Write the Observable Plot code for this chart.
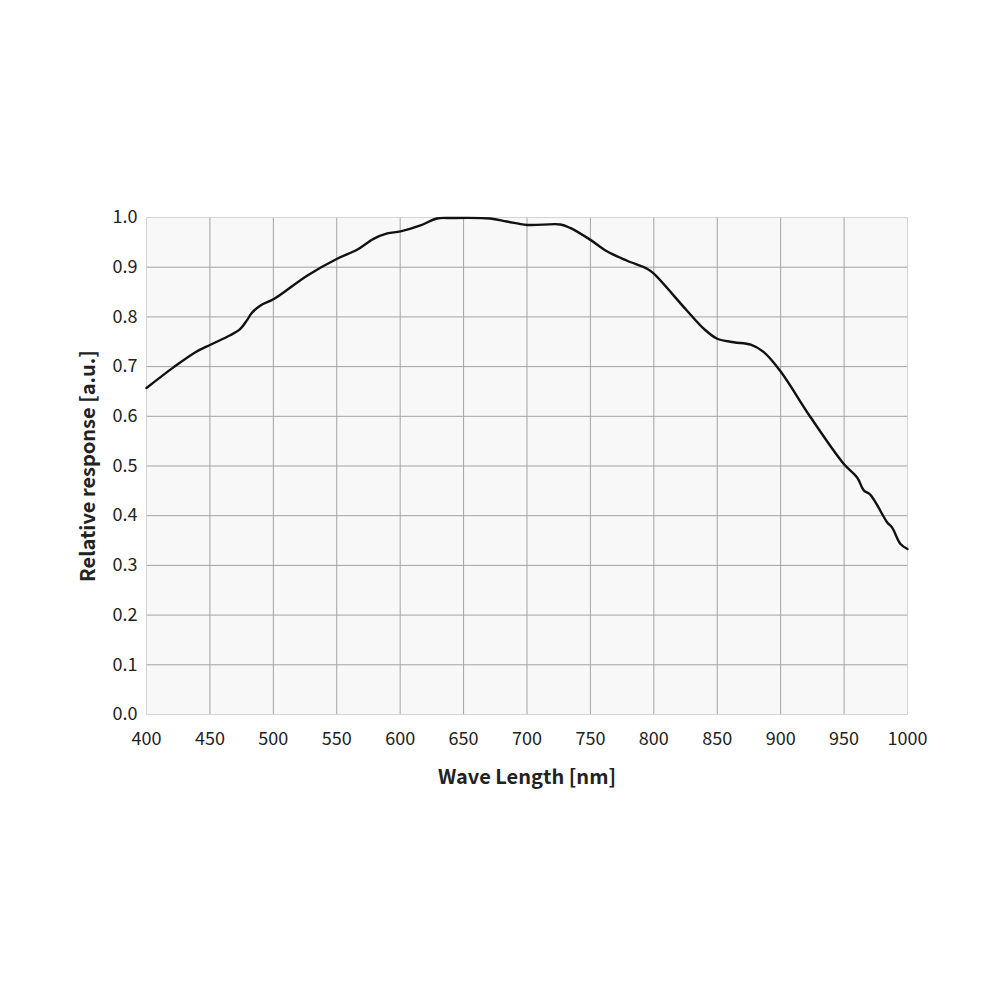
<!DOCTYPE html>
<html>
<head>
<meta charset="utf-8">
<script src="https://cdn.jsdelivr.net/npm/d3@7"></script>
<script src="https://cdn.jsdelivr.net/npm/@observablehq/plot@0.6"></script>
<style>
  html, body { margin: 0; padding: 0; background: #fff; }
  #chart svg { display: block; }
</style>
</head>
<body>
<div id="chart"></div>
<script>
const wavelengths = [400, 421.5, 438.6, 450.4, 466, 474, 479.4, 483, 489.9, 500.4, 526.6, 550.3, 566, 579, 589.8, 600.3, 616, 629, 640, 671, 684, 700, 726.4, 734, 750, 763, 779, 794.7, 800, 826, 839.5, 850, 863, 876.4, 886.7, 900, 923.6, 949.8, 960.3, 965.5, 970.8, 983.9, 987.9, 994.5, 1000];
const responses   = [0.657, 0.699, 0.729, 0.744, 0.763, 0.776, 0.794, 0.808, 0.823, 0.836, 0.883, 0.917, 0.935, 0.957, 0.968, 0.972, 0.984, 0.998, 0.999, 0.998, 0.992, 0.985, 0.986, 0.979, 0.955, 0.932, 0.913, 0.897, 0.887, 0.813, 0.776, 0.756, 0.749, 0.744, 0.729, 0.690, 0.598, 0.504, 0.477, 0.451, 0.442, 0.387, 0.376, 0.343, 0.333];
const xTicks = [400, 450, 500, 550, 600, 650, 700, 750, 800, 850, 900, 950, 1000];
const yTicks = [0, 0.1, 0.2, 0.3, 0.4, 0.5, 0.6, 0.7, 0.8, 0.9, 1.0];
const xLabel = "Wave Length [nm]";
const yLabel = "Relative response [a.u.]";

const data = wavelengths.map((w, i) => ({w, r: responses[i]}));

const chart = Plot.plot({
  width: 1000,
  height: 1000,
  marginLeft: 146,
  marginRight: 93,
  marginTop: 217,
  marginBottom: 286,
  style: {fontFamily: "'Noto Sans CJK JP', 'Noto Sans', sans-serif", fontSize: "18px", color: "#222", background: "#fff"},
  x: {domain: [400, 1000], ticks: xTicks, label: null},
  y: {domain: [0, 1], ticks: yTicks, label: null},
  marks: [
    Plot.frame({fill: "#f8f8f8", stroke: "none"}),
    Plot.gridX(xTicks, {stroke: "#a3a3a3", strokeOpacity: 1, strokeWidth: 1}),
    Plot.gridY(yTicks, {stroke: "#a3a3a3", strokeOpacity: 1, strokeWidth: 1}),
    Plot.frame({stroke: "#d4d4d4", strokeWidth: 1}),
    Plot.axisX(xTicks, {tickSize: 0, tickPadding: 18, fontSize: 18, fill: "#222", tickFormat: d => String(d), label: null}),
    Plot.axisY(yTicks, {tickSize: 0, tickPadding: 9, fontSize: 18, fill: "#222", tickFormat: d => d.toFixed(1), label: null}),
    Plot.line(data, {x: "w", y: "r", stroke: "#111", strokeWidth: 2.4, curve: "catmull-rom"}),
    Plot.text([xLabel], {frameAnchor: "bottom", lineAnchor: "middle", textAnchor: "middle", dy: 63, fontSize: 20, fontWeight: "bold", fill: "#222"}),
    Plot.text([yLabel], {frameAnchor: "left", lineAnchor: "middle", textAnchor: "middle", dx: -58, rotate: -90, fontSize: 20, fontWeight: "bold", fill: "#222"})
  ]
});
document.getElementById("chart").appendChild(chart);
</script>
</body>
</html>
